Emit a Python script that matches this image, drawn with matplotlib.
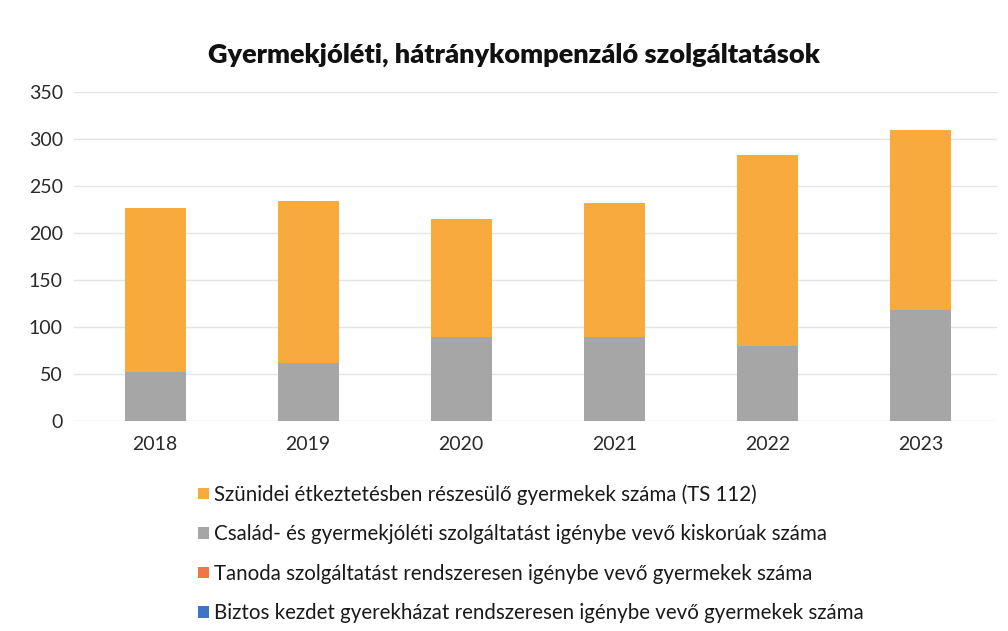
import numpy as np
import matplotlib
matplotlib.use("Agg")
from matplotlib import pyplot as plt

years = ["2018", "2019", "2020", "2021", "2022", "2023"]
szunidei = [175, 172, 126, 143, 203, 192]
csalad = [52, 62, 89, 89, 80, 118]
tanoda = [0, 0, 0, 0, 0, 0]
biztos = [0, 0, 0, 0, 0, 0]

labels = [
    "Szünidei étkeztetésben részesülő gyermekek száma (TS 112)",
    "Család- és gyermekjóléti szolgáltatást igénybe vevő kiskorúak száma",
    "Tanoda szolgáltatást rendszeresen igénybe vevő gyermekek száma",
    "Biztos kezdet gyerekházat rendszeresen igénybe vevő gyermekek száma",
]
colors = ["#F8AA3C", "#A6A6A6", "#F27449", "#3F73C6"]

plt.rcParams["font.family"] = ["Lato", "DejaVu Sans"]

fig = plt.figure(figsize=(10.08, 6.31), dpi=100)
ax = fig.add_axes([74 / 1008, 1 - 421 / 631, (997 - 74) / 1008, (421 - 92) / 631])

x = np.arange(len(years))
w = 0.4
bottom = np.zeros(len(years))
handles = {}
for vals, lab, col in [(biztos, labels[3], colors[3]), (tanoda, labels[2], colors[2]),
                       (csalad, labels[1], colors[1]), (szunidei, labels[0], colors[0])]:
    b = ax.bar(x, vals, w, bottom=bottom, color=col, label=lab, zorder=3)
    handles[lab] = b
    bottom += np.array(vals)

ax.set_xlim(-0.53, 5.5)
ax.set_ylim(0, 350)
ax.set_yticks(range(0, 351, 50))
ax.set_xticks(x)
ax.set_xticklabels(years)
ax.grid(axis="y", color="#E4E4E4", linewidth=1, zorder=0)
for s in ax.spines.values():
    s.set_visible(False)
ax.tick_params(length=0, labelsize=14, colors="#2a2a2a")
ax.tick_params(axis="y", pad=8)
ax.tick_params(axis="x", pad=11)

fig.text(0.51, 1 - 55 / 631, "Gyermekjóléti, hátránykompenzáló szolgáltatások",
         ha="center", va="center", fontsize=19.5, fontweight="heavy", color="#111111")

leg = fig.legend([handles[l] for l in labels], labels, loc="upper left",
                 bbox_to_anchor=(190 / 1008, 1 - 476 / 631), frameon=False,
                 fontsize=14.8, handlelength=0.5, handleheight=0.5, handletextpad=0.25,
                 labelspacing=0.95, borderaxespad=0)
for t in leg.get_texts():
    t.set_color("#1a1a1a")

fig.savefig("out.png", dpi=100)
